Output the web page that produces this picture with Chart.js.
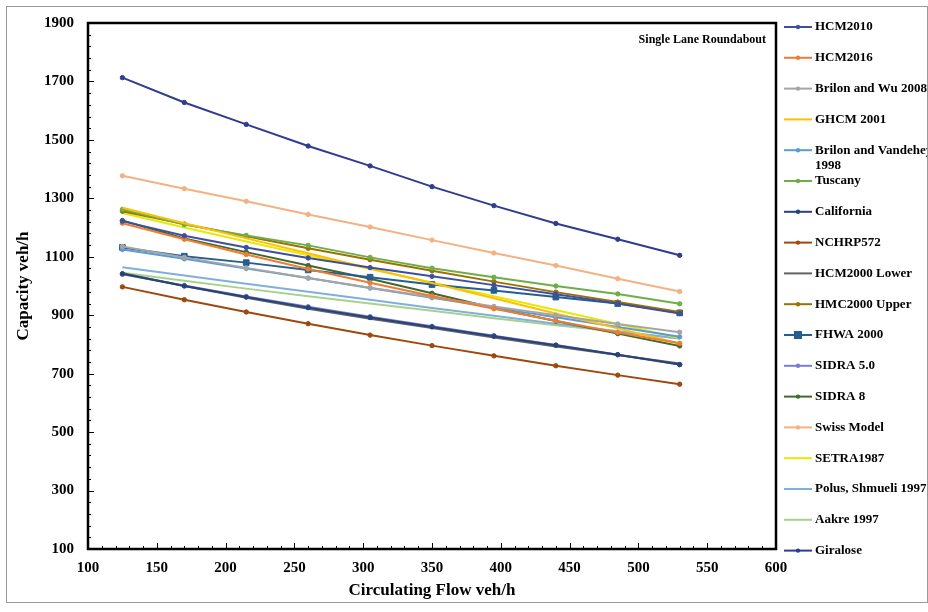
<!DOCTYPE html>
<html><head><meta charset="utf-8">
<script src="https://cdn.jsdelivr.net/npm/chart.js@4"></script>
<style>
html,body{margin:0;padding:0;background:#fff;}
#wrap{position:relative;width:928px;height:612px;}
#frame{position:absolute;left:6px;top:6px;width:920px;height:595px;border:1px solid #9a9a9a;pointer-events:none;}
</style></head>
<body><div id="wrap"><canvas id="c" width="928" height="612"></canvas><div id="frame"></div></div>
<script>
// ---- data ----
const circulatingFlow = [125,170,215,260,305,350,395,440,485,530];
const xTicks = [100,150,200,250,300,350,400,450,500,550,600];
const yTicks = [100,300,500,700,900,1100,1300,1500,1700,1900];
const seriesNames = ["HCM2010","HCM2016","Brilon and Wu 2008","GHCM 2001","Brilon and Vandehey 1998","Tuscany","California","NCHRP572","HCM2000 Lower","HMC2000 Upper","FHWA 2000","SIDRA 5.0","SIDRA 8","Swiss Model","SETRA1987","Polus, Shmueli 1997","Aakre 1997","Giralose"];
const hcm2010     = [1222,1172,1132,1096,1063,1033,1003,972,940,906];
const hcm2016     = [1215,1160,1108,1058,1011,966,922,881,841,804];
const brilonWu    = [1135,1098,1062,1027,994,962,930,900,870,842];
const ghcm2001    = [1268,1215,1163,1112,1060,1010,958,906,855,803];
const brilonVand  = [1125,1093,1060,1027,993,960,926,893,860,826];
const tuscany     = [1262,1210,1173,1139,1098,1061,1030,1000,973,939];
const california  = [1042,1000,962,926,892,860,828,797,765,731];
const nchrp572    = [997,953,911,871,832,796,761,727,695,664];
const hcm2000Low  = [1044,1000,960,922,888,856,824,793,764,735];
const hmc2000Up   = [1256,1212,1170,1129,1090,1052,1015,979,945,911];
const fhwa2000    = [1132,1102,1080,1055,1030,1005,985,962,940,908];
const sidra50     = [1040,1002,964,929,895,862,830,798,765,731];
const sidra8      = [1224,1163,1116,1070,1025,975,925,880,837,795];
const swissModel  = [1377,1333,1290,1245,1202,1157,1113,1070,1025,981];
const setra1987   = [1250,1200,1152,1105,1058,1012,965,918,870,822];
const polus1997   = [1064,1036,1008,980,953,925,898,871,845,820];
const aakre1997   = [1045,1018,991,965,940,915,890,866,843,820];
const giralose    = [1713,1628,1553,1479,1411,1340,1275,1214,1160,1105];
const allSeries = [hcm2010,hcm2016,brilonWu,ghcm2001,brilonVand,tuscany,california,nchrp572,hcm2000Low,hmc2000Up,fhwa2000,sidra50,sidra8,swissModel,setra1987,polus1997,aakre1997,giralose];

// ---- styles ----
const colors = ["#3f4fa0","#ed7d31","#a5a5a5","#ffc000","#5b9bd5","#70ad47","#264478","#9e480e","#636363","#997300","#255e91","#7e7bd6","#43682b","#f4b183","#e8e800","#7fb0dc","#a9d18e","#2f3c8f"];
const markers = ["circle","circle","circle",false,"circle","circle","circle","circle",false,"circle","rect","circle","circle","circle",false,false,false,"circle"];
const FONT = "'Liberation Serif','Times New Roman',serif";

const datasets = seriesNames.map((n,i)=>({
  label:n,
  data: circulatingFlow.map((x,j)=>({x:x,y:allSeries[i][j]})),
  borderColor: colors[i],
  backgroundColor: colors[i],
  borderWidth: 2,
  pointStyle: markers[i] || 'circle',
  pointRadius: markers[i] ? (markers[i]==='rect'?4:2.2) : 0,
  pointBorderWidth: 1,
  tension: 0
}));

const decor = {
  id:'decor',
  afterDraw(chart){
    const ctx = chart.ctx, a = chart.chartArea;
    const xs = chart.scales.x, ys = chart.scales.y;
    ctx.save();
    ctx.strokeStyle = '#000'; ctx.lineWidth = 1;
    for(let v=100; v<=1900; v+=40){
      const y = Math.round(ys.getPixelForValue(v))+0.5;
      const len = (v-100)%200===0 ? 6 : 3;
      ctx.beginPath(); ctx.moveTo(a.left, y); ctx.lineTo(a.left+len, y); ctx.stroke();
    }
    for(let v=100; v<=600; v+=10){
      const x = Math.round(xs.getPixelForValue(v))+0.5;
      const len = v%50===0 ? 6 : 3;
      ctx.beginPath(); ctx.moveTo(x, a.bottom); ctx.lineTo(x, a.bottom-len); ctx.stroke();
    }
    ctx.lineWidth = 2.5; ctx.strokeStyle = '#000';
    ctx.strokeRect(a.left, a.top, a.right-a.left, a.bottom-a.top);
    ctx.fillStyle = '#000';
    ctx.font = "bold 12px " + FONT;
    ctx.textAlign = 'right'; ctx.textBaseline = 'middle';
    ctx.fillText('Single Lane Roundabout', a.right-10, 40);
    const lx0 = a.right + 8, lx1 = lx0 + 28, tx = lx1 + 3;
    const step = 30.8;
    ctx.font = "bold 13px " + FONT;
    ctx.textAlign = 'left';
    chart.data.datasets.forEach((d,i)=>{
      const y = 27 + i*step;
      ctx.strokeStyle = d.borderColor; ctx.lineWidth = 2;
      ctx.beginPath(); ctx.moveTo(lx0,y); ctx.lineTo(lx1,y); ctx.stroke();
      if(d.pointRadius>0){
        ctx.fillStyle = d.borderColor;
        const r = d.pointRadius;
        if(d.pointStyle==='rect'){ ctx.fillRect((lx0+lx1)/2-r,y-r,2*r,2*r); }
        else { ctx.beginPath(); ctx.arc((lx0+lx1)/2,y,r,0,Math.PI*2); ctx.fill(); }
      }
      ctx.fillStyle = '#000';
      if(d.label==='Brilon and Vandehey 1998'){
        ctx.fillText('Brilon and Vandehey', tx, y);
        ctx.fillText('1998', tx, y+15);
      } else ctx.fillText(d.label, tx, y);
    });
    ctx.restore();
  }
};

new Chart(document.getElementById('c'), {
  type:'line',
  data:{datasets},
  options:{
    responsive:false, animation:false, devicePixelRatio:1,
    layout:{padding:{left:0,right:152,top:19,bottom:0}},
    plugins:{legend:{display:false}, tooltip:{enabled:false}},
    scales:{
      x:{type:'linear', min:100, max:600,
        afterBuildTicks:(s)=>{ s.ticks = xTicks.map(v=>({value:v})); },
        afterFit:(s)=>{ s.height = 63; },
        grid:{display:false, drawTicks:false},
        border:{display:false},
        ticks:{padding:10, color:'#000', callback:(v)=>String(v), font:{family:FONT, size:15, weight:'bold'}},
        title:{display:true, text:'Circulating Flow veh/h', color:'#000', padding:{top:0,bottom:11}, font:{family:FONT, size:17, weight:'bold'}}
      },
      y:{type:'linear', min:100, max:1900,
        afterBuildTicks:(s)=>{ s.ticks = yTicks.map(v=>({value:v})); },
        afterFit:(s)=>{ s.width = 88; },
        grid:{display:false, drawTicks:false},
        border:{display:false},
        ticks:{padding:14, color:'#000', callback:(v)=>String(v), font:{family:FONT, size:15, weight:'bold'}},
        title:{display:true, text:'Capacity veh/h', color:'#000', padding:{top:13,bottom:0}, font:{family:FONT, size:17, weight:'bold'}}
      }
    }
  },
  plugins:[decor]
});
</script></body></html>
